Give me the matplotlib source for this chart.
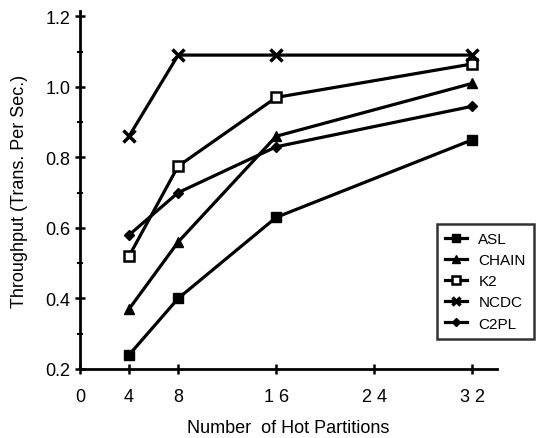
import matplotlib
matplotlib.use("Agg")
import matplotlib.pyplot as plt

plt.rcParams['font.family'] = ['Liberation Sans', 'DejaVu Sans']

x_vals = [4, 8, 16, 32]
asl = [0.24, 0.40, 0.63, 0.85]
chain = [0.37, 0.56, 0.86, 1.01]
k2 = [0.52, 0.775, 0.97, 1.065]
ncdc = [0.86, 1.09, 1.09, 1.09]
c2pl = [0.58, 0.70, 0.83, 0.945]

x_ticks = [0, 4, 8, 16, 24, 32]
x_tick_labels = ["0", "4", "8", "1 6", "2 4", "3 2"]
y_ticks = [0.2, 0.4, 0.6, 0.8, 1.0, 1.2]
y_tick_labels = ["0.2", "0.4", "0.6", "0.8", "1.0", "1.2"]

fig = plt.figure(figsize=(5.38, 4.39), dpi=100)
ax = fig.add_axes([80/538, 1-370/439, 417/538, (370-12)/439])

lw = 2.3
ax.plot(x_vals, asl, color='black', lw=lw, marker='s', ms=7, mfc='black', label='ASL')
ax.plot(x_vals, chain, color='black', lw=lw, marker='^', ms=7, mfc='black', label='CHAIN')
ax.plot(x_vals, k2, color='black', lw=lw, marker='s', ms=7, mfc='white', mew=1.8, label='K2')
ax.plot(x_vals, ncdc, color='black', lw=lw, marker='x', ms=8, mew=2.5, label='NCDC')
ax.plot(x_vals, c2pl, color='black', lw=lw, marker='D', ms=5.5, mfc='black', label='C2PL')

ax.set_xlim(0, 34)
ax.set_ylim(0.2, 1.215)
ax.spines['top'].set_visible(False)
ax.spines['right'].set_visible(False)
ax.spines['left'].set_linewidth(2)
ax.spines['bottom'].set_linewidth(2)
ax.spines['left'].set_bounds(0.2, 1.215)

ax.set_xticks(x_ticks)
ax.set_xticklabels(x_tick_labels)
ax.set_yticks(y_ticks)
ax.set_yticklabels(y_tick_labels)
ax.set_yticks([0.3, 0.5, 0.7, 0.9, 1.1], minor=True)
ax.tick_params(axis='both', which='major', direction='inout', length=7, width=1.8, labelsize=13)
ax.tick_params(axis='y', which='minor', direction='inout', length=4, width=1.5)
ax.tick_params(axis='x', pad=10)

ax.set_xlabel("Number  of Hot Partitions", fontsize=13, labelpad=10)
ax.set_ylabel("Throughput (Trans. Per Sec.)", fontsize=13, labelpad=12)

leg = ax.legend(loc='upper left', bbox_to_anchor=(437/538, 1-225/439),
                bbox_transform=fig.transFigure, fontsize=11, frameon=True,
                fancybox=False, edgecolor='black', handlelength=1.4,
                labelspacing=0.46, borderpad=0.55, handletextpad=0.75,
                borderaxespad=0, markerscale=0.8)
leg.get_frame().set_linewidth(1.8)

fig.savefig("out.png", dpi=100)
